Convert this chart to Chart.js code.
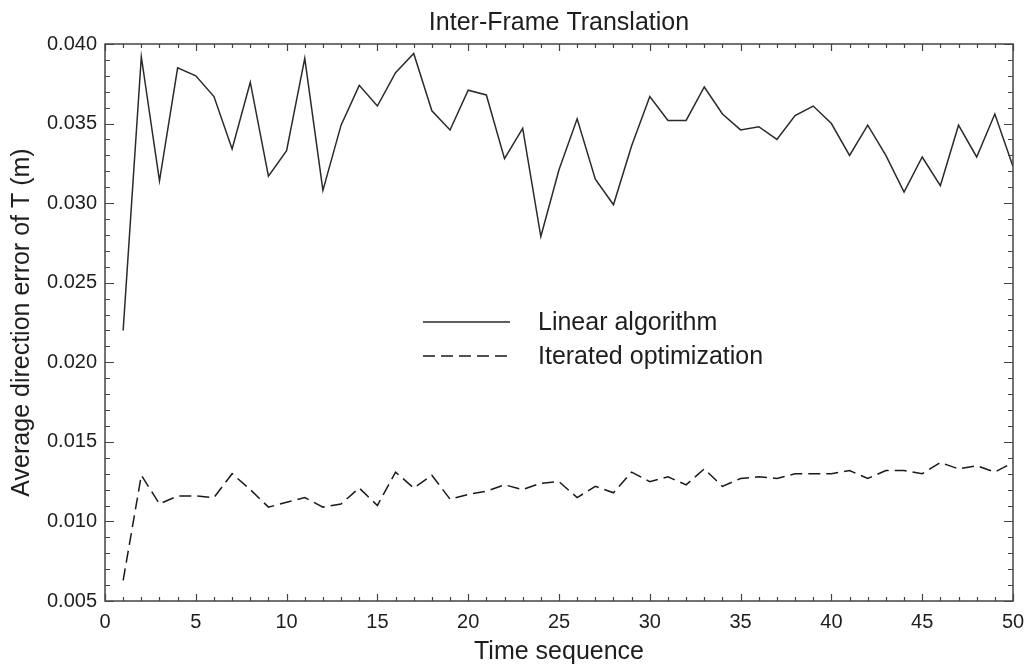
<!DOCTYPE html>
<html>
<head>
<meta charset="utf-8">
<script src="https://cdn.jsdelivr.net/npm/chart.js@4.4.1/dist/chart.umd.min.js"></script>
<style>
  html, body { margin: 0; padding: 0; background: #fff; }
  #wrap { width: 1026px; height: 668px; }
</style>
</head>
<body>
<div id="wrap"><canvas id="c" width="1026" height="668"></canvas></div>
<script>
const chartTitle = "Inter-Frame Translation";
const xTitle = "Time sequence";
const yTitle = "Average direction error of T (m)";

const timeSeq = [1,2,3,4,5,6,7,8,9,10,11,12,13,14,15,16,17,18,19,20,21,22,23,24,25,
                 26,27,28,29,30,31,32,33,34,35,36,37,38,39,40,41,42,43,44,45,46,47,48,49,50];

const linearAlg = [0.0220, 0.0392, 0.0314, 0.0385, 0.0380, 0.0367, 0.0334, 0.0376, 0.0317, 0.0333,
                   0.0391, 0.0308, 0.0349, 0.0374, 0.0361, 0.0382, 0.0394, 0.0358, 0.0346, 0.0371,
                   0.0368, 0.0328, 0.0347, 0.0279, 0.0321, 0.0353, 0.0315, 0.0299, 0.0336, 0.0367,
                   0.0352, 0.0352, 0.0373, 0.0356, 0.0346, 0.0348, 0.0340, 0.0355, 0.0361, 0.0350,
                   0.0330, 0.0349, 0.0330, 0.0307, 0.0329, 0.0311, 0.0349, 0.0329, 0.0356, 0.0323];

const iteratedOpt = [0.0063, 0.0129, 0.0111, 0.0116, 0.0116, 0.0115, 0.0130, 0.0120, 0.0109, 0.0112,
                     0.0115, 0.0109, 0.0111, 0.0121, 0.0110, 0.0131, 0.0121, 0.0129, 0.0114, 0.0117,
                     0.0119, 0.0123, 0.0120, 0.0124, 0.0125, 0.0115, 0.0122, 0.0118, 0.0131, 0.0125,
                     0.0128, 0.0123, 0.0133, 0.0122, 0.0127, 0.0128, 0.0127, 0.0130, 0.0130, 0.0130,
                     0.0132, 0.0127, 0.0132, 0.0132, 0.0130, 0.0137, 0.0133, 0.0135, 0.0131, 0.0137];

const xMin = 0, xMax = 50, xMajorStep = 5, xMinorStep = 1;
const yMin = 0.005, yMax = 0.040, yMajorStep = 0.005, yMinorStep = 0.001;

const FONT = '"Liberation Sans", Arial, Helvetica, sans-serif';
const INK = '#1e1e1e';

// Frame with inward major/minor tick marks on all four sides
const framePlugin = {
  id: 'frame',
  afterDatasetsDraw(chart) {
    const {ctx, chartArea: a, scales: {x, y}} = chart;
    ctx.save();
    ctx.strokeStyle = '#444';
    ctx.lineWidth = 1.5;
    ctx.strokeRect(a.left, a.top, a.right - a.left, a.bottom - a.top);
    ctx.lineWidth = 1.2;
    ctx.beginPath();
    const nx = Math.round((xMax - xMin) / xMinorStep);
    for (let i = 0; i <= nx; i++) {
      const v = xMin + i * xMinorStep;
      const px = Math.round(x.getPixelForValue(v)) + 0.5;
      const major = (i % Math.round(xMajorStep / xMinorStep)) === 0;
      const L = major ? 7 : 4;
      ctx.moveTo(px, a.bottom); ctx.lineTo(px, a.bottom - L);
      ctx.moveTo(px, a.top); ctx.lineTo(px, a.top + L);
    }
    const ny = Math.round((yMax - yMin) / yMinorStep);
    for (let i = 0; i <= ny; i++) {
      const v = yMin + i * yMinorStep;
      const py = Math.round(y.getPixelForValue(v)) + 0.5;
      const major = (i % Math.round(yMajorStep / yMinorStep)) === 0;
      const L = major ? 9 : 5;
      ctx.moveTo(a.left, py); ctx.lineTo(a.left + L, py);
      ctx.moveTo(a.right, py); ctx.lineTo(a.right - L, py);
    }
    ctx.stroke();
    ctx.restore();
  }
};

// In-plot legend
const legendPlugin = {
  id: 'inlegend',
  afterDraw(chart) {
    const {ctx, chartArea: a} = chart;
    const lineX0 = a.left + 318, lineX1 = a.left + 405, textX = a.left + 433;
    const rows = [a.top + 278, a.top + 312];
    ctx.save();
    chart.data.datasets.forEach((ds, i) => {
      const yy = rows[i];
      ctx.strokeStyle = ds.borderColor;
      ctx.lineWidth = ds.borderWidth;
      ctx.setLineDash(ds.borderDash || []);
      ctx.beginPath();
      ctx.moveTo(lineX0, yy); ctx.lineTo(lineX1, yy);
      ctx.stroke();
      ctx.setLineDash([]);
      ctx.fillStyle = INK;
      ctx.font = '25px ' + FONT;
      ctx.textBaseline = 'middle';
      ctx.textAlign = 'left';
      ctx.fillText(ds.label, textX, yy + 1);
    });
    ctx.restore();
  }
};

const toPts = (xs, ys) => xs.map((v, i) => ({x: v, y: ys[i]}));

new Chart(document.getElementById('c'), {
  type: 'line',
  data: {
    datasets: [
      {
        label: 'Linear algorithm',
        data: toPts(timeSeq, linearAlg),
        borderColor: '#2a2a2a',
        borderWidth: 1.5,
        pointRadius: 0,
        tension: 0,
        fill: false
      },
      {
        label: 'Iterated optimization',
        data: toPts(timeSeq, iteratedOpt),
        borderColor: '#1a1a1a',
        borderWidth: 1.5,
        borderDash: [12, 6],
        pointRadius: 0,
        tension: 0,
        fill: false
      }
    ]
  },
  options: {
    responsive: false,
    animation: false,
    devicePixelRatio: 1,
    layout: { padding: { top: 0, left: 0, right: 13, bottom: 0 } },
    plugins: {
      legend: { display: false },
      tooltip: { enabled: false },
      title: {
        display: true,
        text: chartTitle,
        fullSize: false,
        color: INK,
        font: { family: FONT, size: 25, weight: 'normal', lineHeight: 1.2 },
        padding: { top: 8, bottom: 6 }
      }
    },
    scales: {
      x: {
        type: 'linear',
        min: xMin,
        max: xMax,
        grid: { display: false, drawTicks: false },
        border: { display: false },
        ticks: {
          stepSize: xMajorStep,
          padding: 9,
          color: INK,
          font: { family: FONT, size: 20 },
          maxRotation: 0
        },
        title: {
          display: true,
          text: xTitle,
          color: INK,
          font: { family: FONT, size: 25, lineHeight: 1.2 },
          padding: { top: 0, bottom: 1 }
        },
        afterFit(s) { s.height = 67; s.paddingLeft = 0; s.paddingRight = 0; }
      },
      y: {
        type: 'linear',
        min: yMin,
        max: yMax,
        grid: { display: false, drawTicks: false },
        border: { display: false },
        ticks: {
          stepSize: yMajorStep,
          padding: 8,
          color: INK,
          font: { family: FONT, size: 20 },
          callback: (v) => Number(v).toFixed(3)
        },
        title: {
          display: true,
          text: yTitle,
          color: INK,
          font: { family: FONT, size: 25, lineHeight: 1.2 },
          padding: { top: 7, bottom: 0 }
        },
        afterFit(s) { s.width = 105; s.paddingTop = 0; s.paddingBottom = 0; }
      }
    }
  },
  plugins: [framePlugin, legendPlugin]
});
</script>
</body>
</html>
